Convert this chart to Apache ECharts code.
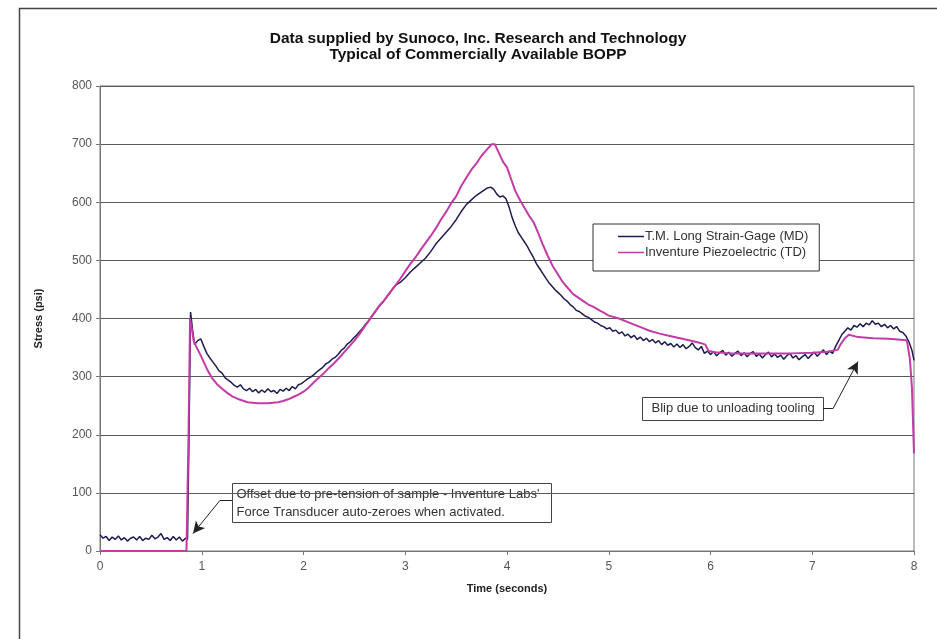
<!DOCTYPE html>
<html>
<head>
<meta charset="utf-8">
<script src="https://cdn.jsdelivr.net/npm/echarts@6/dist/echarts.min.js"></script>
<style>
    html, body { margin: 0; padding: 0; background: #fff; }
    #chart { width: 937px; height: 639px; }
</style>
</head>
<body>
<div id="chart"></div>
<script>
    // T.M. Long strain-gage (MD) trace, time in seconds / stress in psi
    let mdTime = [0.00,0.03,0.06,0.09,0.12,0.15,0.18,0.21,0.24,0.27,0.30,0.33,0.36,0.39,0.42,0.45,0.48,0.51,0.54,0.57,0.60,0.63,0.66,0.69,0.72,0.75,0.78,0.81,0.84,0.86,
        0.875,0.89,0.91,0.93,0.96,0.99,1.02,1.05,1.08,1.11,1.14,1.17,1.20,1.23,1.26,1.29,1.32,1.35,1.38,1.41,1.44,1.47,1.50,1.53,1.56,1.59,1.62,1.65,1.68,1.71,1.74,1.77,1.80,1.83,1.86,1.89,1.92,1.95,1.98,
        2.01,2.04,2.07,2.10,2.13,2.16,2.19,2.22,2.25,2.28,2.31,2.34,2.37,2.40,2.43,2.46,2.49,2.52,2.55,2.58,2.61,2.64,2.67,2.70,2.73,2.76,2.79,2.82,2.85,2.88,2.91,2.95,
        3.00,3.05,3.10,3.15,3.20,3.25,3.30,3.35,3.40,3.45,3.50,3.55,3.60,3.65,3.70,3.75,3.80,3.84,3.87,3.90,3.93,3.96,3.99,
        4.02,4.05,4.08,4.11,4.14,4.17,4.20,4.23,4.26,4.29,4.32,4.35,4.38,4.41,4.44,4.47,4.50,4.53,4.56,4.59,4.62,4.65,4.68,4.71,4.74,4.77,4.80,4.83,4.86,4.89,4.92,4.95,4.98,
        5.01,5.04,5.07,5.10,5.13,5.16,5.19,5.22,5.25,5.28,5.31,5.34,5.37,5.40,5.43,5.46,5.49,5.52,5.55,5.58,5.61,5.64,5.67,5.70,5.73,5.76,5.79,5.82,5.85,5.88,5.91,5.94,5.97,
        6.00,6.03,6.06,6.09,6.12,6.15,6.18,6.21,6.24,6.27,6.30,6.33,6.36,6.39,6.42,6.45,6.48,6.51,6.54,6.57,6.60,6.63,6.66,6.69,6.72,6.75,6.78,6.81,6.84,6.87,6.90,6.93,6.96,6.99,
        7.02,7.05,7.08,7.11,7.14,7.17,7.20,7.23,7.26,7.29,7.32,7.35,7.38,7.41,7.44,7.47,7.50,7.53,7.56,7.59,7.62,7.65,7.68,7.71,7.74,7.77,7.80,7.83,7.86,7.89,7.92,7.95,7.98,8.00];
    let mdStress = [28,22,25,18,24,20,26,19,23,17,22,24,19,25,18,22,20,27,21,24,30,20,23,18,25,19,24,17,22,20,
        200,411,380,355,362,365,352,340,332,325,318,310,306,298,294,290,285,282,286,279,276,280,274,278,272,277,273,279,274,276,271,278,275,280,276,283,279,286,288,
        292,296,299,303,308,312,316,322,325,330,333,338,345,349,356,360,366,371,377,383,390,396,404,410,418,424,430,438,444,452,458,462,
        470,480,488,496,504,515,528,538,548,558,570,584,596,604,612,618,624,626,622,614,609,611,606,
        592,574,560,548,540,532,524,514,505,494,486,478,470,462,456,450,445,440,434,430,424,420,414,412,408,404,402,398,394,392,388,386,382,
        384,378,380,374,377,370,373,367,371,364,368,362,366,360,364,358,362,355,360,354,357,351,356,350,355,348,352,358,350,346,352,340,344,
        338,343,336,341,345,337,342,335,340,344,336,341,334,340,343,335,339,332,338,342,334,339,333,337,330,336,340,332,336,329,334,338,331,337,
        342,335,341,346,338,344,340,352,362,372,378,384,380,388,385,391,386,392,389,396,390,392,386,390,384,388,382,386,378,376,370,360,345,328];

    // Inventure piezoelectric (TD) trace
    let tdTime = [0.00,0.85,0.855,0.87,0.885,0.90,0.92,0.95,0.98,1.02,1.06,1.10,1.15,1.20,1.25,1.30,1.35,1.40,1.45,1.50,1.55,1.60,1.65,1.70,1.75,1.80,1.85,1.90,1.95,
        2.00,2.05,2.10,2.15,2.20,2.25,2.30,2.35,2.40,2.45,2.50,2.55,2.60,2.65,2.70,2.75,2.80,2.85,2.90,2.95,
        3.00,3.05,3.10,3.15,3.20,3.25,3.30,3.35,3.40,3.45,3.50,3.55,3.60,3.65,3.70,3.75,3.80,3.85,3.88,3.92,3.96,
        4.00,4.04,4.08,4.13,4.18,4.22,4.26,4.30,4.35,4.40,4.45,4.50,4.55,4.60,4.65,4.70,4.75,4.80,4.85,4.90,4.95,
        5.00,5.10,5.20,5.30,5.40,5.50,5.60,5.70,5.80,5.90,5.95,5.98,6.05,6.20,6.40,6.60,6.80,7.00,7.15,7.25,7.28,7.32,7.36,7.45,7.60,7.75,7.90,7.93,7.96,7.98,8.00];
    let tdStress = [0,0,0,200,400,385,362,350,340,325,310,298,287,279,272,266,262,259,256,255,254,254,254,255,256,258,261,265,269,
        274,281,290,298,306,315,323,332,342,352,362,373,386,398,411,423,433,445,456,468,
        481,494,505,518,530,542,555,570,583,598,610,628,642,656,667,680,690,700,700,685,670,
        660,640,620,603,588,576,566,550,528,508,490,476,462,452,442,436,430,424,420,415,410,
        405,400,393,386,379,374,370,366,362,358,355,344,342,340,340,340,340,341,343,346,356,366,372,368,366,365,363,362,330,280,168];

    let seriesNames = ['T.M. Long Strain-Gage (MD)', 'Inventure Piezoelectric (TD)'];
    let xTicks = [0, 8, 1];      // min, max, interval
    let yTicks = [0, 800, 100];

    // annotation leader lines [from box edge, elbow, arrow tip] in data units
    let offsetArrow = [[1.297, 87], [1.179, 87], [0.914, 30]];
    let blipArrow = [[7.106, 245], [7.204, 245], [7.45, 326]];
    let notes = [
        ['Offset due to pre-tension of sample - Inventure Labs\'', 'Force Transducer auto-zeroes when activated.'],
        ['Blip due to unloading tooling']
    ];

    function pairs(xs, ys) {
        let out = [];
        for (let i = 0; i < xs.length; i++) {
            out.push([xs[i], ys[i]]);
        }
        return out;
    }

    function leader(pts) {
        return [
            [{coord: pts[0], symbol: 'none'}, {coord: pts[1], symbol: 'none'}],
            [{coord: pts[1], symbol: 'none'}, {coord: pts[2], symbol: 'arrow'}]
        ];
    }

    let font = '"Liberation Sans", Arial, sans-serif';
    let chart = echarts.init(document.getElementById('chart'));

    const option = {
        animation: false,
        backgroundColor: '#fff',
        title: {
            text: 'Data supplied by Sunoco, Inc. Research and Technology\nTypical of Commercially Available BOPP',
            left: 473,
            textAlign: 'center',
            top: 26,
            textStyle: {
                fontFamily: font,
                fontSize: 15.5,
                fontWeight: 'bold',
                color: '#111',
                lineHeight: 15.5
            }
        },
        legend: {
            orient: 'vertical',
            left: 593,
            top: 224,
            backgroundColor: '#fff',
            borderColor: '#333',
            borderWidth: 1,
            borderRadius: 0,
            padding: [6, 11, 12, 25],
            itemGap: 3,
            itemWidth: 26,
            itemHeight: 1.5,
            icon: 'rect',
            textStyle: {fontFamily: font, fontSize: 13, color: '#333', padding: [0, 0, 0, -4]},
            data: seriesNames
        },
        grid: {
            left: 100,
            right: 23,
            top: 86,
            bottom: 88,
            show: true,
            borderColor: '#777',
            borderWidth: 1
        },
        xAxis: {
            type: 'value',
            min: xTicks[0],
            max: xTicks[1],
            interval: xTicks[2],
            name: 'Time (seconds)',
            nameLocation: 'middle',
            nameGap: 32,
            nameTextStyle: {fontFamily: font, fontSize: 11, fontWeight: 'bold', color: '#222'},
            axisLine: {lineStyle: {color: '#777', width: 1}},
            axisTick: {show: true, length: 4, lineStyle: {color: '#777'}},
            axisLabel: {fontFamily: font, fontSize: 12, color: '#555', margin: 10},
            splitLine: {show: false}
        },
        yAxis: {
            type: 'value',
            min: yTicks[0],
            max: yTicks[1],
            interval: yTicks[2],
            name: 'Stress (psi)',
            nameLocation: 'middle',
            nameGap: 56,
            nameTextStyle: {fontFamily: font, fontSize: 11, fontWeight: 'bold', color: '#222'},
            axisLine: {show: true, lineStyle: {color: '#777', width: 1}},
            axisTick: {show: true, length: 4, lineStyle: {color: '#777'}},
            axisLabel: {fontFamily: font, fontSize: 12, color: '#555', margin: 8},
            splitLine: {show: true, lineStyle: {color: '#5a5a5a', width: 1}}
        },
        series: [
            {
                name: seriesNames[0],
                type: 'line',
                symbol: 'none',
                data: pairs(mdTime, mdStress),
                lineStyle: {color: '#1c1c52', width: 1.5},
                itemStyle: {color: '#1c1c52'},
                markLine: {
                    silent: true,
                    symbolSize: [9, 12],
                    label: {show: false},
                    lineStyle: {color: '#222', width: 1, type: 'solid'},
                    data: leader(offsetArrow).concat(leader(blipArrow))
                }
            },
            {
                name: seriesNames[1],
                type: 'line',
                symbol: 'none',
                data: pairs(tdTime, tdStress),
                lineStyle: {color: '#c33ba4', width: 2},
                itemStyle: {color: '#c33ba4'}
            }
        ],
        graphic: [
            {
                type: 'rect',
                left: 17,
                top: 6,
                shape: {width: 940, height: 660},
                style: {fill: 'none', stroke: '#444', lineWidth: 1.5},
                silent: true
            },
            {
                type: 'group',
                left: 232,
                top: 483,
                children: [
                    {type: 'rect', shape: {width: 319, height: 39}, style: {fill: '#fff', stroke: '#444', lineWidth: 1}},
                    {type: 'text', left: 4, top: 2, style: {text: notes[0].join('\n'), font: '13px ' + font, fill: '#333', lineHeight: 18}}
                ]
            },
            {
                type: 'group',
                left: 642,
                top: 397,
                children: [
                    {type: 'rect', shape: {width: 181, height: 23}, style: {fill: '#fff', stroke: '#444', lineWidth: 1}},
                    {type: 'text', left: 9, top: 4, style: {text: notes[1][0], font: '13px ' + font, fill: '#333'}}
                ]
            }
        ]
    };
    chart.setOption(option);
</script>
</body>
</html>
